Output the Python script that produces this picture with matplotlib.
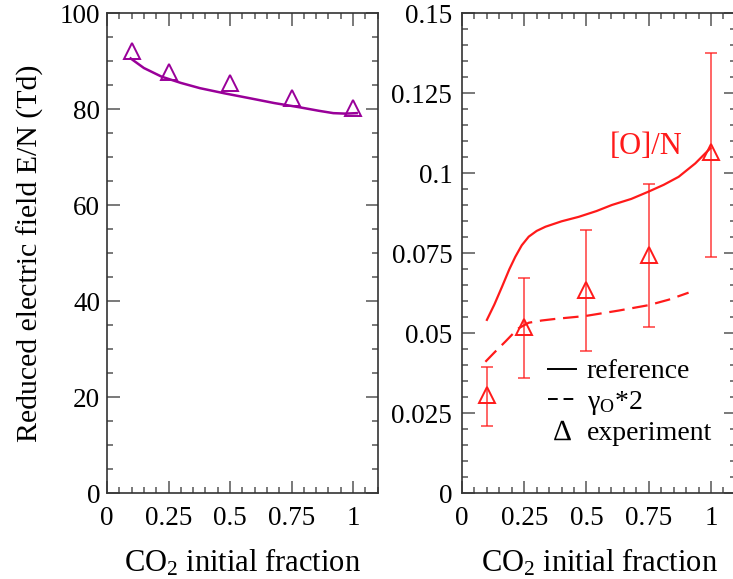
import numpy as np
import matplotlib
matplotlib.use("Agg")
import matplotlib.pyplot as plt
from matplotlib.lines import Line2D
from matplotlib.ticker import MultipleLocator

plt.rcParams['font.family'] = ['Liberation Serif', 'DejaVu Serif']
plt.rcParams['mathtext.fontset'] = 'custom'
plt.rcParams['mathtext.rm'] = 'Liberation Serif'
plt.rcParams['mathtext.it'] = 'Liberation Serif:italic'

# experiment points (CO2 fraction)
x_exp = [0.1, 0.25, 0.5, 0.75, 1.0]

# left panel: reduced electric field (Td)
en_exp = [92.2, 87.7, 85.5, 82.3, 80.2]
x_en_ref = [0.096, 0.15, 0.222, 0.3, 0.378, 0.48, 0.581, 0.68, 0.785, 0.86, 0.92, 0.97, 1.015]
en_ref = [90.6, 88.6, 86.8, 85.5, 84.4, 83.3, 82.3, 81.3, 80.4, 79.7, 79.2, 79.1, 79.2]

# right panel: [O]/N
o_exp = [0.0307, 0.052, 0.0635, 0.0745, 0.1066]
o_err_lo = [0.0211, 0.0361, 0.0445, 0.0519, 0.0739]
o_err_hi = [0.0394, 0.0674, 0.0823, 0.0966, 0.1375]
x_o_ref = [0.100, 0.13, 0.161, 0.19, 0.214, 0.24, 0.268, 0.3, 0.335, 0.4, 0.469,
           0.54, 0.602, 0.68, 0.750, 0.81, 0.870, 0.937, 0.997]
o_ref = [0.0542, 0.0590, 0.0646, 0.0700, 0.0739, 0.0775, 0.0802, 0.0820, 0.0833, 0.0850, 0.0864,
         0.0882, 0.0901, 0.0920, 0.0943, 0.0964, 0.0989, 0.1031, 0.1078]
x_o_gam = [0.094, 0.13, 0.174, 0.2, 0.228, 0.268, 0.32, 0.375, 0.495, 0.629, 0.750, 0.83, 0.910]
o_gam = [0.0411, 0.0440, 0.0474, 0.0495, 0.0516, 0.0533, 0.0540, 0.0545, 0.0554, 0.0571, 0.0588, 0.0605, 0.0627]

purple = '#990099'
red = '#ff1a1a'
fs = 22

fig = plt.figure(figsize=(7.33, 5.79), dpi=100)
ax1 = fig.add_axes([107/733, 1-493.3/579, 270.6/733, 480/579])
ax2 = fig.add_axes([462/733, 1-493.3/579, 273.9/733, 480/579])


def style(ax, ypad):
    for s in ax.spines.values():
        s.set_color('#333333')
        s.set_linewidth(1.2)
    ax.tick_params(which='both', direction='in', top=True, right=True,
                   color='#555555', labelsize=19.5)
    ax.tick_params(which='major', length=9, width=1.1)
    ax.tick_params(which='minor', length=4.5, width=1.1)
    ax.tick_params(axis='x', pad=9)
    ax.tick_params(axis='y', pad=ypad)
    ax.set_xlim(0, 1.1)
    ax.xaxis.set_major_locator(MultipleLocator(0.25))
    ax.xaxis.set_minor_locator(MultipleLocator(0.05))
    ax.set_xticks([0, 0.25, 0.5, 0.75, 1])
    ax.set_xticklabels(['0', '0.25', '0.5', '0.75', '1'])
    ax.set_xlabel('CO$_2$ initial fraction', fontsize=fs, labelpad=12)


# left panel
ax1.plot(x_en_ref, en_ref, color=purple, lw=1.8)
ax1.plot(x_exp, en_exp, ls='none', marker='^', ms=11, mfc='none',
         mec=purple, mew=1.4)
style(ax1, 5)
ax1.set_ylim(0, 100)
ax1.yaxis.set_major_locator(MultipleLocator(20))
ax1.yaxis.set_minor_locator(MultipleLocator(5))
ax1.set_ylabel('Reduced electric field E/N (Td)', fontsize=21.5, labelpad=11)

# right panel
ax2.plot(x_o_ref, o_ref, color=red, lw=1.6)
ax2.plot(x_o_gam, o_gam, color=red, lw=1.6, dashes=(7, 3.5))
yerr = [np.array(o_exp) - np.array(o_err_lo), np.array(o_err_hi) - np.array(o_exp)]
ax2.errorbar(x_exp, o_exp, yerr=yerr, fmt='none', ecolor=red, elinewidth=1.1,
             capsize=4.3, capthick=1.1, alpha=0.85)
ax2.plot(x_exp, o_exp, ls='none', marker='^', ms=11, mfc='none',
         mec=red, mew=1.4)
style(ax2, 7)
ax2.set_ylim(0, 0.15)
ax2.yaxis.set_major_locator(MultipleLocator(0.025))
ax2.yaxis.set_minor_locator(MultipleLocator(0.005))
ax2.set_yticks([0, 0.025, 0.05, 0.075, 0.1, 0.125, 0.15])
ax2.set_yticklabels(['0', '0.025', '0.05', '0.075', '0.1', '0.125', '0.15'])
ax2.text(0.594, 0.1085, '[O]/N', color=red, fontsize=22, ha='left', va='center')

handles = [Line2D([], [], color='black', lw=1.4),
           Line2D([], [], color='black', lw=1.4, dashes=(5, 3)),
           Line2D([], [], ls='none', marker='$\u0394$', color='black', ms=14, mew=0)]
labels = ['reference', 'γ$_{\\mathrm{O}}$*2', 'experiment']
ax2.legend(handles, labels, loc='upper left', bbox_to_anchor=(0.314, 0.28),
           frameon=False, fontsize=20, borderpad=0, handlelength=1.0,
           handletextpad=0.4, labelspacing=0.15, borderaxespad=0)

fig.savefig('out.png', dpi=100)
